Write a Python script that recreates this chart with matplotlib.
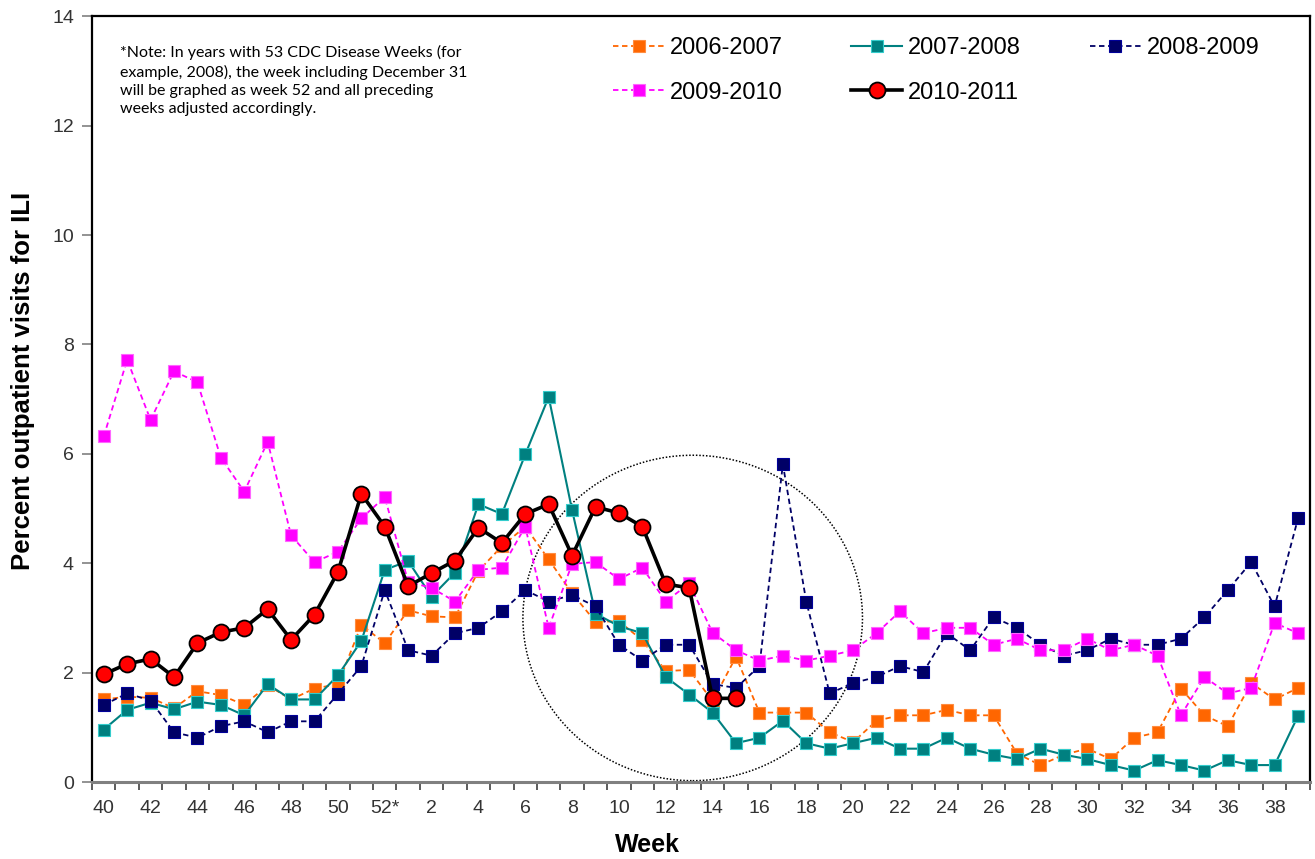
import matplotlib
matplotlib.use("Agg")
import matplotlib.pyplot as plt
from matplotlib.patches import Ellipse

# ============================================================
# Data: ILI % by week, weeks 40..52 then 1..39
# ============================================================

weeks = list(range(40, 53)) + list(range(1, 40))
week_labels = [str(w) for w in weeks]
week_labels[12] = '52*'

ili_2006_2007 = [1.51, 1.56, 1.54, 1.35, 1.66, 1.59, 1.41, 1.77, 1.51, 1.71, 1.79, 2.87, 2.54,
                 3.14, 3.03, 3.01, 3.86, 4.31, 4.67, 4.07, 3.45, 2.93, 2.94, 2.59, 2.03, 2.05,
                 1.48, 2.29, 1.27, 1.27, 1.27, 0.91, 0.73, 1.12, 1.22, 1.22, 1.32, 1.22, 1.22,
                 0.52, 0.31, 0.50, 0.61, 0.42, 0.81, 0.91, 1.71, 1.22, 1.02, 1.81, 1.51, 1.72]

ili_2007_2008 = [0.96, 1.32, 1.45, 1.33, 1.47, 1.41, 1.22, 1.79, 1.51, 1.51, 1.95, 2.58, 3.88,
                 4.04, 3.39, 3.83, 5.08, 4.90, 5.99, 7.04, 4.97, 3.08, 2.85, 2.72, 1.92, 1.60,
                 1.27, 0.71, 0.81, 1.12, 0.71, 0.61, 0.71, 0.81, 0.61, 0.61, 0.81, 0.61, 0.50,
                 0.42, 0.61, 0.50, 0.42, 0.31, 0.21, 0.40, 0.31, 0.21, 0.40, 0.31, 0.31, 1.21]

ili_2008_2009 = [1.41, 1.62, 1.49, 0.91, 0.81, 1.02, 1.11, 0.91, 1.11, 1.11, 1.61, 2.12, 3.51,
                 2.41, 2.31, 2.72, 2.82, 3.12, 3.51, 3.30, 3.42, 3.21, 2.51, 2.22, 2.51, 2.51,
                 1.79, 1.72, 2.12, 5.81, 3.30, 1.62, 1.81, 1.92, 2.12, 2.01, 2.72, 2.41, 3.01,
                 2.82, 2.51, 2.31, 2.41, 2.62, 2.51, 2.51, 2.62, 3.01, 3.51, 4.02, 3.21, 4.82]

ili_2009_2010 = [6.32, 7.72, 6.62, 7.51, 7.31, 5.93, 5.31, 6.22, 4.51, 4.02, 4.21, 4.82, 5.21,
                 3.66, 3.55, 3.30, 3.88, 3.92, 4.67, 2.82, 3.99, 4.02, 3.71, 3.92, 3.30, 3.63,
                 2.73, 2.41, 2.22, 2.31, 2.22, 2.31, 2.41, 2.72, 3.12, 2.72, 2.82, 2.82, 2.51,
                 2.62, 2.41, 2.41, 2.62, 2.41, 2.51, 2.31, 1.22, 1.92, 1.62, 1.72, 2.91, 2.72]

ili_2010_2011 = [1.97, 2.16, 2.25, 1.92, 2.54, 2.74, 2.82, 3.16, 2.60, 3.06, 3.84, 5.27, 4.67,
                 3.58, 3.82, 4.05, 4.65, 4.37, 4.90, 5.08, 4.14, 5.03, 4.92, 4.67, 3.62, 3.55,
                 1.53, 1.53]

note_text = ('*Note: In years with 53 CDC Disease Weeks (for\n'
             'example, 2008), the week including December 31\n'
             'will be graphed as week 52 and all preceding\n'
             'weeks adjusted accordingly.')

ORANGE = '#FF6600'
TEAL = '#008080'
TEAL_EDGE = '#33CCCC'
NAVY = '#000066'
MAGENTA = '#FF00FF'
AXIS_GRAY = '#808080'
TEXT_GRAY = '#333333'

plt.rcParams['font.family'] = ['Liberation Sans', 'DejaVu Sans']

fig = plt.figure(figsize=(13.15, 8.59), dpi=100)
ax = fig.add_axes([0.070, 0.0896, 0.926, 0.8914])

x = list(range(len(weeks)))

l1, = ax.plot(x, ili_2006_2007, color=ORANGE, linestyle='--', dashes=(3, 2), linewidth=1.3,
              marker='s', markersize=8, markerfacecolor=ORANGE, markeredgecolor='#FF8C40',
              markeredgewidth=0.8, label='2006-2007')
l2, = ax.plot(x, ili_2007_2008, color=TEAL, linewidth=1.5,
              marker='s', markersize=8, markerfacecolor=TEAL, markeredgecolor=TEAL_EDGE,
              markeredgewidth=0.8, label='2007-2008')
l3, = ax.plot(x, ili_2008_2009, color=NAVY, linestyle='--', dashes=(3, 2), linewidth=1.3,
              marker='s', markersize=8, markerfacecolor=NAVY, markeredgecolor='#000099',
              markeredgewidth=0.8, label='2008-2009')
l4, = ax.plot(x, ili_2009_2010, color=MAGENTA, linestyle='--', dashes=(3, 2), linewidth=1.3,
              marker='s', markersize=8, markerfacecolor=MAGENTA, markeredgecolor='#FF66FF',
              markeredgewidth=0.8, label='2009-2010')
l5, = ax.plot(x[:len(ili_2010_2011)], ili_2010_2011, color='black', linewidth=2.6,
              marker='o', markersize=11.5, markerfacecolor='#FF0000', markeredgecolor='black',
              markeredgewidth=1.3, label='2010-2011', zorder=5)

# dotted circle highlighting the recent weeks
ax.add_patch(Ellipse((25.15, 3.0), width=14.5, height=5.95, fill=False,
                     edgecolor='black', linestyle=(0, (1, 1.2)), linewidth=1.1))

# ============================================================
# Axes styling (Excel look)
# ============================================================

ax.set_xlim(-0.5, 51.5)
ax.set_ylim(0, 14)
ax.set_yticks(range(0, 15, 2))
ax.set_xticks(x[::2])
ax.set_xticklabels(week_labels[::2])
ax.set_xticks([i - 0.5 for i in range(len(weeks) + 1)], minor=True)

ax.tick_params(axis='x', which='major', length=0, labelsize=14, labelcolor=TEXT_GRAY, pad=13)
ax.tick_params(axis='x', which='minor', length=6, width=1.2, color='#404040', direction='out')
ax.tick_params(axis='y', length=7, width=1.2, color=AXIS_GRAY, labelsize=14,
               labelcolor=TEXT_GRAY, pad=6)

ax.spines['bottom'].set_color(AXIS_GRAY)
ax.spines['bottom'].set_linewidth(2.2)
for side in ['left', 'top', 'right']:
    ax.spines[side].set_color('black')
    ax.spines[side].set_linewidth(1.6)

ax.set_xlabel('Week', fontsize=18, fontweight='bold')
ax.xaxis.set_label_coords(0.4565, -0.066)
ax.set_ylabel('Percent outpatient visits for ILI', fontsize=18.5, fontweight='bold')
ax.yaxis.set_label_coords(-0.047, 0.5235)

ax.text(0.023, 0.962, note_text, transform=ax.transAxes, va='top', ha='left',
        fontsize=11.5, family=['Lato', 'DejaVu Sans'], linespacing=1.37)

# legend filled column-wise, so reorder to get rows 1-2-3 / 4-5
handles = [l1, l4, l2, l5, l3]
ax.legend(handles=handles, labels=[h.get_label() for h in handles], ncol=3,
          loc='upper left', bbox_to_anchor=(613 / 1315, 0.957), bbox_transform=fig.transFigure,
          frameon=False, fontsize=17,
          handlelength=2.16, handletextpad=0.25, columnspacing=2.9, labelspacing=0.96,
          borderaxespad=0, borderpad=0)

plt.savefig('out.png', dpi=100)
